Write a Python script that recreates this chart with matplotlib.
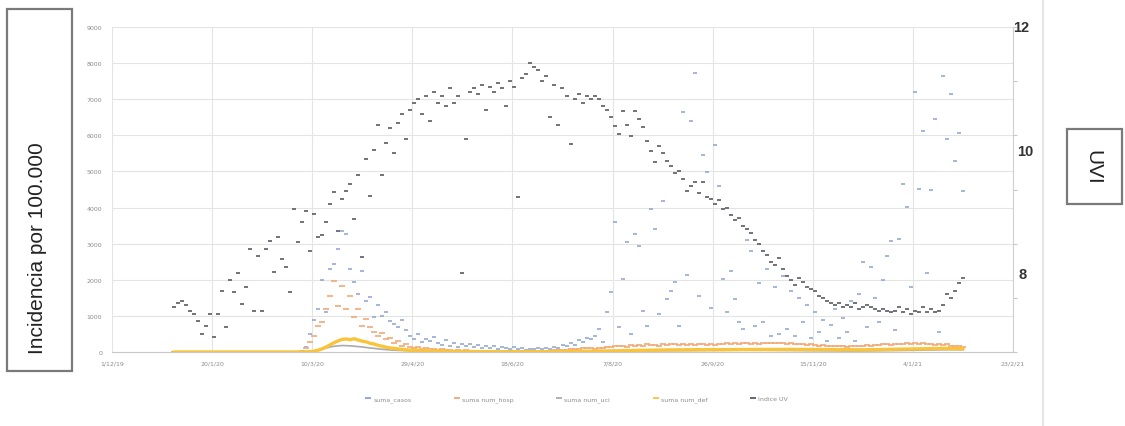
import matplotlib
matplotlib.use('Agg')
import matplotlib.pyplot as plt
import pandas as pd
from matplotlib.lines import Line2D
from matplotlib.patches import Rectangle

uv = [1.67, 1.80, 1.87, 1.73, 1.53, 1.40, 1.13, 0.67, 0.96, 1.40, 0.56, 1.40, 2.27, 0.92, 2.67,
      2.20, 2.93, 1.77, 2.40, 3.80, 1.52, 3.55, 1.53, 3.80, 4.09, 2.96, 4.25, 3.44, 3.13, 2.21,
      5.28, 4.07, 4.80, 5.20, 3.73, 5.09, 4.25, 4.33, 4.80, 5.47, 5.91, 4.47, 5.65, 5.93, 6.20,
      4.91, 6.53, 3.51, 7.13, 5.76, 7.47, 8.40, 6.53, 7.73, 8.27, 7.33, 8.47, 8.80, 7.87, 8.93,
      9.20, 9.33, 8.80, 9.47, 8.53, 9.60, 9.20, 9.47, 9.07, 9.73, 9.20, 9.47, 2.93, 7.87, 9.60,
      9.73, 9.53, 9.87, 8.93, 9.80, 9.60, 9.93, 9.73, 9.07, 10.00, 9.80, 5.73, 10.13, 10.27, 10.67,
      10.53, 10.40, 10.00, 10.20, 8.67, 9.87, 8.40, 9.73, 9.47, 7.68, 9.33, 9.53, 9.20, 9.47, 9.33,
      9.47, 9.33, 9.07, 8.93, 8.67, 8.35, 8.05, 8.91, 8.40, 7.97, 8.91, 8.60, 8.31, 7.79, 7.43,
      7.01, 7.60, 7.33, 7.07, 6.87, 6.60, 6.67, 6.39, 5.95, 6.13, 6.27, 5.87, 6.27, 5.73, 5.65,
      5.47, 5.60, 5.27, 5.33, 5.07, 4.87, 4.93, 4.67, 4.53, 4.40, 4.13, 4.00, 3.73, 3.60, 3.33,
      3.20, 3.47, 3.07, 2.80, 2.67, 2.47, 2.73, 2.60, 2.40, 2.33, 2.27, 2.07, 2.00, 1.87, 1.80,
      1.73, 1.80, 1.67, 1.73, 1.67, 1.80, 1.60, 1.67, 1.73, 1.67, 1.60, 1.53, 1.60, 1.53, 1.47,
      1.53, 1.67, 1.47, 1.60, 1.40, 1.53, 1.47, 1.67, 1.47, 1.60, 1.47, 1.53, 1.73, 2.13, 2.00,
      2.27, 2.53, 2.73]

casos = [0] * 30 + [
    0, 10, 40, 150, 500, 900, 1190, 2000, 1100, 2300, 2440, 2850, 3350, 3270, 2300,
    1940, 1600, 2250, 1400, 1520, 970, 1300, 1000, 1100, 850, 780, 690, 900, 600, 440,
    360, 500, 280, 360, 300, 420, 250, 200, 330, 180, 260, 150, 230, 170, 210,
    150, 200, 120, 180, 100, 160, 90, 140, 110, 80, 130, 70, 100, 60, 90,
    80, 100, 70, 120, 90, 150, 110, 200, 160, 250, 200, 320, 280, 400, 350,
    440, 640, 280, 1100, 1660, 3600, 690, 2020, 3050, 500, 3270, 2940, 1140, 720, 3960,
    3400, 1050, 4180, 1470, 1690, 1940, 720, 6650, 2130, 6400, 7730, 1550, 5460, 4990, 1220,
    5730, 4600, 2020, 1100, 2240, 1470, 830, 640, 3100, 2800, 720, 1900, 830, 2300, 440,
    1800, 500, 2100, 640, 1700, 450, 1500, 830, 1300, 380, 1100, 560, 900, 300, 750,
    1200, 400, 950, 550, 1400, 300, 1600, 2500, 700, 2350, 1500, 830, 2000, 2660, 3070,
    600, 3130, 4650, 4020, 1800, 7200, 4500, 6120, 2200, 4490, 6450, 550, 7650, 5900, 7150,
    5290, 6070, 4460]

hosp = [0] * 30 + [
    0, 5, 30, 100, 280, 440, 720, 830, 1190, 1550, 1970, 1270, 1830, 1190, 1550,
    970, 1200, 720, 910, 690, 550, 440, 520, 360, 400, 250, 300, 170, 220, 130,
    110, 150, 90, 120, 70, 90, 60, 80, 50, 60, 40, 55, 35, 45, 30,
    30, 25, 35, 20, 30, 25, 20, 30, 20, 25, 20, 30, 25, 20, 25,
    25, 30, 35, 30, 40, 45, 50, 60, 55, 70, 80, 90, 100, 110, 120,
    90, 100, 110, 130, 150, 170, 160, 180, 150, 190, 170, 200, 180, 210, 190,
    200, 180, 220, 190, 210, 230, 200, 220, 190, 210, 200, 230, 210, 190, 220,
    200, 230, 210, 240, 220, 250, 230, 260, 240, 220, 250, 230, 260, 240, 250,
    260, 240, 250, 230, 240, 220, 210, 230, 200, 210, 190, 180, 200, 170, 180,
    170, 160, 180, 150, 170, 160, 180, 170, 190, 180, 200, 190, 210, 220, 200,
    210, 230, 220, 240, 230, 250, 220, 240, 210, 230, 200, 220, 190, 210, 180,
    170, 160, 150]

uci = [0] * 30 + [
    0, 0, 0, 5, 15, 30, 50, 80, 110, 140, 160, 170, 180, 175, 170,
    160, 150, 140, 125, 110, 100, 85, 75, 65, 55, 50, 45, 40, 35, 30,
    28, 25, 22, 20, 18, 16, 15, 14, 13, 12, 11, 10, 10, 9, 9,
    8, 8, 8, 8, 8, 8, 8, 8, 8, 8, 8, 8, 8, 8, 8,
    8, 8, 9, 9, 10, 10, 11, 12, 12, 13, 14, 15, 16, 17, 18,
    19, 20, 21, 22, 23, 24, 25, 26, 27, 28, 29, 30, 30, 31, 32,
    33, 34, 35, 35, 36, 37, 38, 38, 39, 40, 40, 41, 42, 42, 43,
    44, 45, 46, 47, 48, 49, 50, 50, 51, 50, 49, 48, 47, 46, 45,
    44, 43, 42, 41, 40, 39, 38, 37, 36, 35, 34, 33, 32, 31, 30,
    30, 29, 29, 28, 28, 28, 29, 30, 31, 32, 33, 34, 35, 36, 38,
    40, 42, 44, 46, 48, 50, 52, 54, 56, 58, 60, 61, 62, 63, 64,
    64, 63, 62]

defs = [0] * 30 + [
    0, 0, 0, 5, 10, 25, 50, 90, 140, 200, 260, 310, 350, 360, 340,
    370, 330, 300, 280, 240, 220, 180, 160, 130, 110, 100, 85, 70, 60, 50,
    45, 40, 35, 30, 28, 25, 22, 20, 18, 16, 15, 14, 12, 11, 10,
    10, 9, 9, 8, 8, 8, 8, 7, 7, 7, 7, 7, 7, 7, 7,
    7, 7, 8, 8, 9, 10, 11, 12, 13, 14, 15, 16, 18, 20, 22,
    24, 26, 28, 30, 32, 34, 36, 38, 40, 42, 44, 46, 48, 50, 52,
    54, 56, 55, 58, 60, 57, 62, 60, 64, 61, 63, 65, 62, 66, 64,
    63, 66, 64, 67, 65, 68, 66, 70, 67, 69, 68, 71, 69, 72, 70,
    72, 70, 73, 71, 74, 72, 70, 73, 69, 71, 68, 70, 67, 69, 66,
    65, 63, 66, 62, 64, 61, 63, 60, 62, 64, 66, 68, 70, 72, 74,
    76, 78, 80, 82, 85, 87, 90, 92, 94, 96, 98, 99, 100, 98, 96,
    94, 92, 90]

series_labels = ['suma_casos', 'suma num_hosp', 'suma num_uci', 'suma num_def', 'Indice UV']
series_colors = ['#8aa3d2', '#f2a877', '#ababab', '#f9c43a', '#5a5a66']
x_tick_labels = ['1/12/19', '20/1/20', '10/3/20', '29/4/20', '18/6/20',
                 '7/8/20', '26/9/20', '15/11/20', '4/1/21', '23/2/21']

dates = pd.date_range('2020-01-01', periods=len(uv), freq='2D')

W, H = 1125, 427
fig = plt.figure(figsize=(W / 100, H / 100), dpi=100)
ax = fig.add_axes([112 / W, 1 - 353 / H, (1013 - 112) / W, (353 - 28) / H])

ax.plot(dates, casos, ls='none', marker='_', ms=3.5, mew=1.1, color=series_colors[0])
ax.plot(dates, hosp, ls='none', marker='_', ms=4, mew=1.2, color=series_colors[1])
ax.plot(dates, uci, ls='-', lw=1.2, color=series_colors[2])
ax.plot(dates, defs, ls='-', lw=2.4, color=series_colors[3])

ax.set_xlim(pd.Timestamp('2019-12-01'), pd.Timestamp('2021-02-23'))
ax.set_xticks(pd.date_range('2019-12-01', periods=len(x_tick_labels), freq='50D'))
ax.set_xticklabels(x_tick_labels)
ax.set_ylim(0, 9000)
ax.set_yticks(range(0, 9001, 1000))
ax.grid(color='#e4e4e4', lw=0.8)
ax.set_axisbelow(True)
ax.tick_params(length=0, labelsize=4.5, labelcolor='#8c8c8c')
ax.tick_params(axis='x', pad=6)
ax.tick_params(axis='y', pad=7)
for s in ['top', 'left', 'right']:
    ax.spines[s].set_visible(False)
ax.spines['bottom'].set_color('#c8c8c8')

ax2 = ax.twinx()
ax2.plot(dates, uv, ls='none', marker='_', ms=3, mew=1.2, color=series_colors[4])
ax2.set_ylim(0, 12)
ax2.set_yticks(range(0, 13, 2))
ax2.set_yticklabels([])
ax2.tick_params(direction='out', length=3, color='#c8c8c8')
for s in ['top', 'left', 'bottom']:
    ax2.spines[s].set_visible(False)
ax2.spines['right'].set_color('#d0d0d0')

# bold numbers pasted on the right of the chart
for txt, px, py in [('12', 1021, 28), ('10', 1025, 152), ('8', 1023, 275)]:
    fig.text(px / W, 1 - py / H, txt, ha='center', va='center',
             fontsize=10.5, fontweight='bold', color='#333333', family='Liberation Sans')

# framed axis titles
fig.add_artist(Rectangle((7 / W, 1 - 372 / H), 65 / W, 362 / H, transform=fig.transFigure,
                         fc='white', ec='#7a7a7a', lw=1.6))
fig.text(38 / W, 1 - 248 / H, 'Incidencia por 100.000', rotation=90, ha='center', va='center',
         fontsize=15, family='Liberation Sans', color='#222222')
fig.add_artist(Rectangle((1067 / W, 1 - 205 / H), 55 / W, 75 / H, transform=fig.transFigure,
                         fc='white', ec='#7a7a7a', lw=1.6))
fig.text(1093 / W, 1 - 167 / H, 'UVI', rotation=270, ha='center', va='center',
         fontsize=15, family='Liberation Sans', color='#222222')

fig.add_artist(Line2D([1043 / W, 1043 / W], [0, 1], transform=fig.transFigure,
                      color='#e6e6e6', lw=1.5))

handles = [Line2D([], [], ls='none', marker='_', ms=4, mew=1.3, color=c) for c in series_colors]
fig.legend(handles, series_labels, loc='center', bbox_to_anchor=(577 / W, 1 - 400 / H),
           ncol=5, frameon=False, fontsize=4.5, labelcolor='#8c8c8c',
           columnspacing=7, handlelength=0.6, handletextpad=0.5)

fig.savefig('out.png', dpi=100)
